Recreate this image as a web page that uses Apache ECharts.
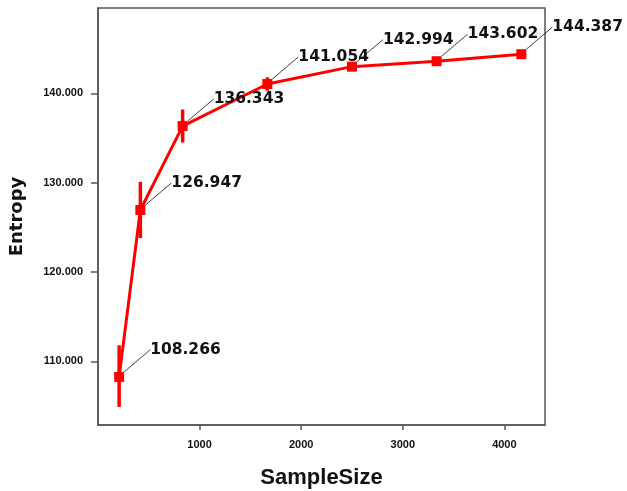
<!DOCTYPE html>
<html>
<head>
<meta charset="utf-8">
<script src="https://cdn.jsdelivr.net/npm/echarts@6/dist/echarts.min.js"></script>
<style>html,body{margin:0;padding:0;background:#fff;}#c{width:627px;height:491px;}</style>
</head>
<body>
<div id="c"></div>
<script>
const sampleSizes = [208, 417, 833, 1667, 2500, 3333, 4167];
const entropy = [108.266, 126.947, 136.343, 141.054, 142.994, 143.602, 144.387];
const errLow = [104.9, 123.8, 134.5, 140.3, 142.5, 143.4, 144.2];
const errHigh = [111.8, 130.1, 138.2, 141.8, 143.5, 143.8, 144.6];
const yTicks = [110, 120, 130, 140];
const xTicks = [1000, 2000, 3000, 4000];

const chart = echarts.init(document.getElementById('c'), null, {renderer: 'canvas'});
const lineData = sampleSizes.map((x, i) => [x, entropy[i]]);
const errData = sampleSizes.map((x, i) => [x, errLow[i], errHigh[i]]);
const axisCol = '#555';
chart.setOption({
  animation: false,
  backgroundColor: '#fff',
  grid: {left: 98, right: 82, top: 8, bottom: 66, show: true, borderColor: axisCol, borderWidth: 1.5, containLabel: false, outerBoundsMode: 'none'},
  xAxis: {
    type: 'value', min: 0, max: 4400,
    name: 'SampleSize', nameLocation: 'middle', nameGap: 42,
    nameTextStyle: {fontFamily: 'Liberation Sans', fontWeight: 'bold', fontSize: 22, color: '#111'},
    axisLine: {show: true, lineStyle: {color: axisCol, width: 1.5}},
    axisTick: {show: true, length: 5, customValues: xTicks, lineStyle: {color: axisCol, width: 1.5}},
    axisLabel: {customValues: xTicks, margin: 14, fontFamily: 'Liberation Sans', fontWeight: 'bold', fontSize: 11, color: '#111', formatter: v => String(v)},
    splitLine: {show: false}
  },
  yAxis: {
    type: 'value', min: 102.88, max: 149.56,
    name: 'Entropy', nameLocation: 'middle', nameGap: 72, nameRotate: 90,
    nameTextStyle: {fontFamily: 'DejaVu Sans', fontWeight: 'bold', fontSize: 18, color: '#111'},
    axisLine: {show: true, lineStyle: {color: axisCol, width: 1.5}},
    axisTick: {show: true, length: 7, customValues: yTicks, lineStyle: {color: axisCol, width: 1.5}},
    axisLabel: {customValues: yTicks, margin: 15, fontFamily: 'Liberation Sans', fontWeight: 'bold', fontSize: 11, color: '#111', formatter: v => v.toFixed(3)},
    splitLine: {show: false}
  },
  series: [
    {
      type: 'custom',
      data: errData,
      z: 2,
      renderItem: function (params, api) {
        const p1 = api.coord([api.value(0), api.value(1)]);
        const p2 = api.coord([api.value(0), api.value(2)]);
        return {type: 'line', shape: {x1: p1[0], y1: p1[1], x2: p2[0], y2: p2[1]}, style: {stroke: '#ff0000', lineWidth: 3.5}};
      }
    },
    {
      type: 'line',
      data: lineData,
      z: 3,
      symbol: 'rect', symbolSize: 10,
      lineStyle: {color: '#ff0000', width: 3},
      itemStyle: {color: '#ff0000'},
      label: {
        show: true, position: 'right', distance: 0,
        fontFamily: 'DejaVu Sans', fontWeight: 'bold', fontSize: 15.5, color: '#111',
        formatter: p => p.value[1].toFixed(3)
      },
      labelLine: {show: true, lineStyle: {color: '#111', width: 0.8}},
      labelLayout: {dx: 26, dy: -27}
    }
  ]
});
</script>
</body>
</html>
